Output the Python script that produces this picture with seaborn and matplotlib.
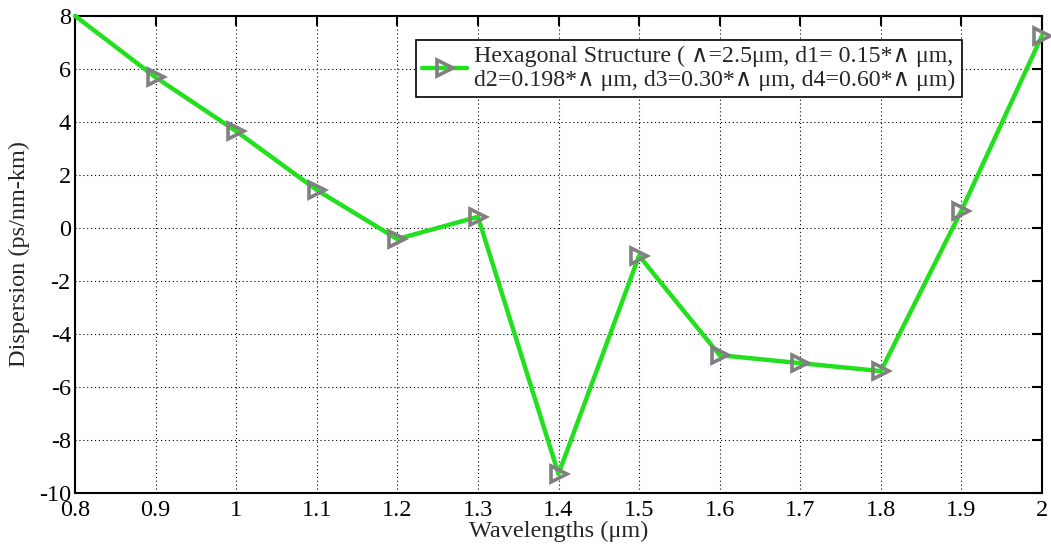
import matplotlib
matplotlib.use("Agg")
import matplotlib.pyplot as plt
import matplotlib.ticker as mticker
import seaborn as sns
import pandas as pd

wavelengths = [0.8, 0.9, 1.0, 1.1, 1.2, 1.3, 1.4, 1.5, 1.6, 1.7, 1.8, 1.9, 2.0]
dispersion = [8.0, 5.68, 3.65, 1.43, -0.42, 0.42, -9.28, -1.05, -4.8, -5.1, -5.4, 0.65, 7.25]
x_ticks = [0.8, 0.9, 1.0, 1.1, 1.2, 1.3, 1.4, 1.5, 1.6, 1.7, 1.8, 1.9, 2.0]
y_ticks = [-10, -8, -6, -4, -2, 0, 2, 4, 6, 8]
series_label = ("Hexagonal Structure ( \u2227=2.5\u03bcm, d1= 0.15*\u2227 \u03bcm,\n"
                "d2=0.198*\u2227 \u03bcm, d3=0.30*\u2227 \u03bcm, d4=0.60*\u2227 \u03bcm)")

sns.set_theme(style="white")
plt.rcParams["font.family"] = ["Liberation Serif", "DejaVu Serif"]

df = pd.DataFrame({"wavelength": wavelengths, "dispersion": dispersion})

fig = plt.figure(figsize=(10.51, 5.46), dpi=100)
ax = fig.add_axes([0.0714, 0.097, 0.920, 0.874])

# the corner point at the top-left sits under the frame, so its marker is not drawn
sns.lineplot(data=df, x="wavelength", y="dispersion", ax=ax,
             color="#22e01e", linewidth=3.2, marker=">", markersize=11,
             markerfacecolor="none", markeredgecolor="#808080",
             markeredgewidth=2.6, label=series_label, zorder=3, clip_on=False,
             markevery=list(range(1, len(wavelengths))))

ax.set_xlim(0.8, 2.0)
ax.set_ylim(-10, 8)
ax.set_xticks(x_ticks)
ax.set_yticks(y_ticks)
ax.xaxis.set_major_formatter(mticker.FormatStrFormatter("%g"))
ax.yaxis.set_major_formatter(mticker.FormatStrFormatter("%g"))
ax.tick_params(direction="in", length=7, width=1.5, labelsize=17.5, colors="black",
               top=True, right=True)
ax.tick_params(axis="x", pad=5)
ax.tick_params(axis="y", pad=3)
for s in ax.spines.values():
    s.set_visible(True)
    s.set_color("black")
    s.set_linewidth(1.5)

ax.grid(True, linestyle=(0, (1, 2.5)), color="black", linewidth=0.8)

ax.set_xlabel("Wavelengths (\u03bcm)", fontsize=17.5, labelpad=0)
ax.set_ylabel("Dispersion (ps/nm-km)", fontsize=17.5, labelpad=6)

leg = ax.legend(loc="upper right", bbox_to_anchor=(0.917, 0.9497), fontsize=17.2,
                frameon=True, fancybox=False, framealpha=1, edgecolor="black",
                borderaxespad=0, borderpad=0.25, handlelength=1.9,
                handletextpad=0.3, labelspacing=0.15)
leg.get_frame().set_linewidth(1.2)
# legend sample: one marker in the middle of the line segment
for h in leg.legend_handles:
    h.set_markevery([1])

fig.savefig("out.png", dpi=100)
